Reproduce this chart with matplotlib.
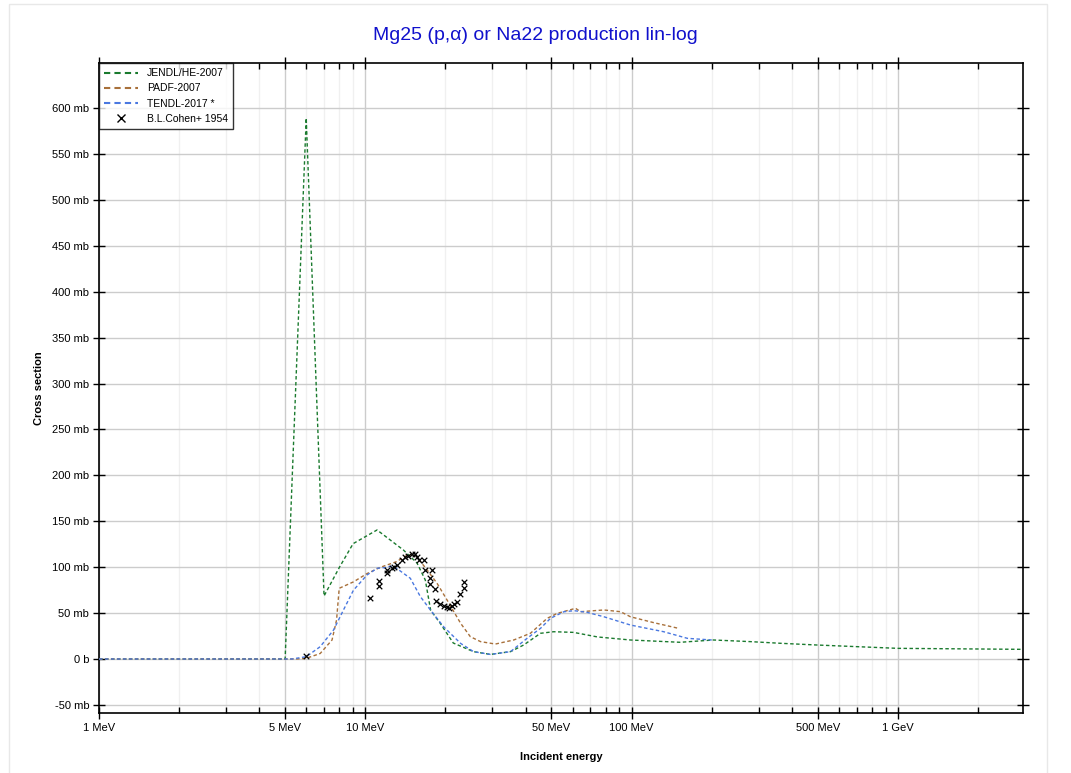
import numpy as np
import matplotlib
matplotlib.use("Agg")
import matplotlib.pyplot as plt
from matplotlib.ticker import FixedLocator, NullFormatter
from matplotlib.lines import Line2D
from matplotlib.patches import Rectangle

# ---------------- data (energies in MeV, cross sections in mb) ----------------
jendl_e = [1.0, 4.99, 5.0, 6.0, 7.0, 8.0, 9.0, 11.07, 13.9, 15.64, 16.8, 17.6, 19.1, 21.4,
           25.5, 29.5, 35.1, 39.3, 45.5, 51.0, 60.5, 74.5, 99.0, 152.0, 203.0, 280.0,
           363.0, 500.0, 1000.0, 3000.0]
jendl_s = [0.0, 0.0, 0.0, 589.0, 68.6, 100.0, 125.6, 140.5, 118.7, 104.5, 86.0, 53.0, 39.0, 17.4,
           8.0, 5.0, 8.0, 15.2, 28.0, 29.7, 29.0, 24.0, 20.7, 18.2, 20.7, 18.9,
           17.1, 15.2, 11.6, 10.5]

padf_e = [1.0, 5.5, 6.0, 6.77, 7.5, 7.8, 7.98, 9.03, 10.15, 11.38, 13.1, 14.35, 15.4,
          17.06, 18.6, 20.3, 22.8, 24.8, 27.1, 30.8, 36.1, 41.7, 48.2, 52.6, 61.6,
          64.3, 78.7, 90.9, 99.0, 121.0, 150.0]
padf_s = [0.0, 0.0, 0.7, 6.0, 20.7, 42.5, 77.0, 84.0, 93.0, 99.8, 106.0, 113.0, 113.5,
          97.0, 82.4, 64.0, 38.9, 24.3, 18.9, 16.3, 20.7, 28.0, 44.3, 49.7, 55.2,
          51.5, 53.4, 51.5, 46.0, 39.6, 33.4]

tendl_e = [1.0, 5.3, 6.0, 6.77, 7.6, 8.28, 9.03, 10.15, 11.07, 12.1, 12.42, 13.1, 14.76,
           16.1, 17.6, 19.7, 22.8, 25.5, 29.5, 35.1, 40.5, 45.5, 49.6, 55.7, 60.9,
           68.1, 78.7, 99.0, 132.0, 162.0, 200.0]
tendl_s = [0.0, 0.0, 2.5, 13.4, 31.6, 53.4, 75.0, 91.5, 98.8, 99.8, 101.0, 98.8, 87.9,
           67.9, 53.0, 35.0, 17.0, 8.0, 5.0, 8.0, 22.5, 33.4, 44.3, 51.5, 52.6,
           50.8, 46.0, 37.0, 29.7, 22.5, 20.7]

cohen_e = [6.0, 10.44, 11.29, 11.29, 12.06, 12.06, 12.6, 12.8, 13.1, 13.74, 14.1, 14.5,
           14.98, 15.4, 15.6, 15.85, 16.6, 16.8, 17.45, 17.8, 17.45, 18.2, 18.5, 19.1,
           19.7, 20.3, 20.6, 21.2, 21.5, 22.1, 22.7, 23.55, 23.55]
cohen_s = [3.6, 66.0, 85.3, 79.5, 97.0, 93.3, 98.8, 100.0, 102.0, 107.8, 110.7, 112.0,
           114.8, 114.8, 110.7, 107.8, 107.8, 97.0, 88.6, 97.0, 81.3, 76.0, 63.5, 59.9,
           57.7, 57.0, 55.2, 57.7, 59.9, 62.4, 70.8, 77.0, 84.2]

series_labels = ["JENDL/HE-2007", "PADF-2007", "TENDL-2017 *", "B.L.Cohen+ 1954"]
x_tick_vals = [1, 5, 10, 50, 100, 500, 1000]
x_tick_labels = ["1 MeV", "5 MeV", "10 MeV", "50 MeV", "100 MeV", "500 MeV", "1 GeV"]
y_tick_vals = list(range(-50, 601, 50))
y_tick_labels = [("0 b" if v == 0 else f"{v} mb") for v in y_tick_vals]

# ---------------- figure ----------------
plt.rcParams['font.family'] = ['Liberation Sans', 'DejaVu Sans']
fig = plt.figure(figsize=(10.71, 7.73), dpi=100)
fig.patches.append(Rectangle((9 / 1071, -0.01), (1047 - 9) / 1071, 1 - 4 / 773 + 0.01,
                             transform=fig.transFigure, fill=False,
                             edgecolor='#e8e8e8', linewidth=1.0, zorder=0))
ax = fig.add_axes([99 / 1071, 1 - 713 / 773, (1023 - 99) / 1071, (713 - 63) / 773])

green = '#1a7a2e'
brown = '#a8703a'
blue = '#4a78e0'
dash = (0, (2.5, 1.8))

ax.plot(jendl_e, jendl_s, color=green, lw=1.0, ls=dash, zorder=3)
ax.plot(padf_e, padf_s, color=brown, lw=1.0, ls=dash, zorder=3)
ax.plot(tendl_e, tendl_s, color=blue, lw=1.0, ls=dash, zorder=3)
ax.scatter(cohen_e, cohen_s, marker='x', s=16, color='black', linewidths=0.9, zorder=4)

ax.set_xscale('log')
ax.set_xlim(1, 2950)
ax.set_ylim(-58.8, 649)

# grid
minor_x = []
for dec in [1, 10, 100, 1000]:
    for m in range(2, 10):
        v = m * dec
        if v <= 3000 and v not in x_tick_vals:
            minor_x.append(v)
ax.xaxis.set_major_locator(FixedLocator(x_tick_vals))
ax.xaxis.set_minor_locator(FixedLocator(minor_x))
ax.set_xticklabels(x_tick_labels)
ax.xaxis.set_minor_formatter(NullFormatter())
ax.yaxis.set_major_locator(FixedLocator(y_tick_vals))
ax.yaxis.set_minor_locator(FixedLocator([v + 25 for v in range(-75, 626, 50)]))
ax.set_yticklabels(y_tick_labels)

ax.grid(which='major', color='#cccccc', lw=1.0, zorder=0)
ax.grid(which='minor', color='#f0f0f0', lw=1.0, zorder=0)
ax.set_axisbelow(True)

ax.tick_params(which='major', direction='inout', length=8, width=1, labelsize=8,
               top=True, right=True, colors='black', pad=3)
ax.tick_params(which='minor', direction='in', length=4, width=1, top=True, right=True)
for sp in ax.spines.values():
    sp.set_linewidth(1.2)

ax.set_xlabel("Incident energy", fontsize=8, fontweight='bold', labelpad=14)
ax.set_ylabel("Cross section", fontsize=8, fontweight='bold', labelpad=6)
fig.text(0.5, 1 - 35 / 773, "Mg25 (p,\u03b1) or Na22 production lin-log", color='#1010cc',
         fontsize=14, ha='center', va='center')

handles = [Line2D([], [], color=green, lw=1.5, ls=(0, (3, 2))),
           Line2D([], [], color=brown, lw=1.5, ls=(0, (3, 2))),
           Line2D([], [], color=blue, lw=1.5, ls=(0, (3, 2))),
           Line2D([], [], color='black', lw=0, marker='x', markersize=6)]
leg = ax.legend(handles, series_labels, loc='upper left', fontsize=7.5, frameon=True,
                fancybox=False, edgecolor='black', borderaxespad=0.0,
                handlelength=3.2, labelspacing=0.5, borderpad=0.5, handletextpad=0.9)
leg.get_frame().set_linewidth(1.0)

fig.savefig("out.png", dpi=100)
